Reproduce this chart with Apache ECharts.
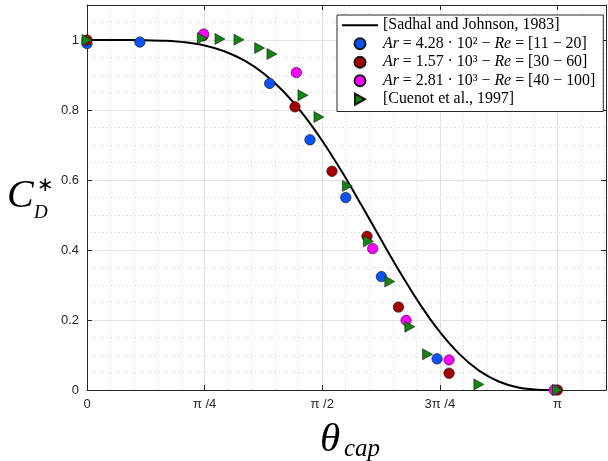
<!DOCTYPE html>
<html><head><meta charset="utf-8">
<script src="https://cdn.jsdelivr.net/npm/echarts@6/dist/echarts.min.js"></script>
<style>html,body{margin:0;padding:0;background:#fff}#c{width:608px;height:461px}</style>
</head><body><div id="c"></div>
<script>
// ---- data ----
const xTickLabels = ['0', 'π /4', 'π /2', '3π /4', 'π'];
const seriesNames = ['Sadhal and Johnson, 1983', 'Ar=4.28e2 Re=[11-20]', 'Ar=1.57e3 Re=[30-60]', 'Ar=2.81e3 Re=[40-100]', 'Cuenot et al., 1997'];
const legendLabels = [
  '[Sadhal and Johnson, 1983]',
  '{i|Ar} = 4.28 · 10² − {i|Re} = [11 − 20]',
  '{i|Ar} = 1.57 · 10³ − {i|Re} = [30 − 60]',
  '{i|Ar} = 2.81 · 10³ − {i|Re} = [40 − 100]',
  '[Cuenot et al., 1997]'
];
const curveTheta = [0, 0.1309, 0.2618, 0.3927, 0.5236, 0.6545, 0.7854, 0.9163, 1.0472, 1.1781, 1.309, 1.4399, 1.5708, 1.7017, 1.8326, 1.9635, 2.0944, 2.2253, 2.3562, 2.4871, 2.618, 2.7489, 2.8798, 3.0107, 3.1416];
const curveCd = [1, 1.0, 0.9999, 0.9994, 0.9977, 0.9933, 0.9842, 0.968, 0.9423, 0.9049, 0.8542, 0.7897, 0.7122, 0.624, 0.5283, 0.4298, 0.3333, 0.2439, 0.1659, 0.1025, 0.0554, 0.0244, 0.0074, 0.001, 0];
const blueTheta = [0, 0.353, 1.220, 1.489, 1.728, 1.966, 2.338];
const blueCd = [0.99, 0.994, 0.876, 0.715, 0.55, 0.324, 0.089];
const redTheta = [0, 0.775, 1.389, 1.636, 1.870, 2.080, 2.418, 3.1416];
const redCd = [1.0, 1.012, 0.809, 0.625, 0.439, 0.237, 0.048, 0];
const magentaTheta = [0.779, 1.398, 1.908, 2.131, 2.418, 3.12];
const magentaCd = [1.017, 0.907, 0.404, 0.199, 0.086, 0];
const greenTheta = [0, 0.770, 0.888, 1.015, 1.153, 1.235, 1.442, 1.549, 1.739, 1.880, 2.022, 2.156, 2.274, 2.617, 3.1416];
const greenCd = [1.0, 1.005, 1.003, 1.001, 0.977, 0.960, 0.842, 0.780, 0.583, 0.425, 0.310, 0.181, 0.102, 0.016, 0];

const pairs = (a, b) => a.map((v, i) => [v, b[i]]);
const xMax = 3.466, yMax = 1.1;
const sans = '"Liberation Sans", Arial, sans-serif';
const tserif = '"Liberation Serif", "DejaVu Serif", serif';
const axisColor = '#262626';
const triPath = 'path://M0,0L10,5.5L0,11Z';

const chart = echarts.init(document.getElementById('c'), null, {renderer: 'canvas'});
const xLabel = v => {
  const i = Math.round(v / (Math.PI / 4));
  return Math.abs(v - i * Math.PI / 4) < 1e-6 ? xTickLabels[i] : '';
};
const minorLine = {show: true, lineStyle: {color: '#d4d4d4', width: 1, type: [1, 3]}};
chart.setOption({
  animation: false,
  backgroundColor: '#fff',
  grid: {left: 87, right: 2, top: 5, bottom: 71, containLabel: false},
  xAxis: [
    {type: 'value', min: 0, max: xMax, interval: Math.PI / 4, position: 'bottom', z: 1,
     axisLine: {show: true, onZero: false, lineStyle: {color: axisColor}},
     axisTick: {show: true, inside: true, length: 5, lineStyle: {color: axisColor}},
     axisLabel: {formatter: xLabel, showMaxLabel: false, margin: 8, fontFamily: sans, fontSize: 13, color: axisColor},
     splitLine: {show: true, lineStyle: {color: '#e2e2e2', width: 1}}},
    {type: 'value', min: 0, max: xMax, interval: Math.PI / 4, position: 'top', z: 1,
     axisLine: {show: true, onZero: false, lineStyle: {color: axisColor}},
     axisTick: {show: true, inside: true, length: 5, lineStyle: {color: axisColor}},
     axisLabel: {show: false}, splitLine: {show: false}},
    {type: 'value', min: 0, max: xMax, interval: Math.PI / 20, z: 0,
     axisLine: {show: false}, axisTick: {show: false}, axisLabel: {show: false}, splitLine: minorLine}
  ],
  yAxis: [
    {type: 'value', min: 0, max: yMax, interval: 0.2, position: 'left', z: 1,
     axisLine: {show: true, onZero: false, lineStyle: {color: axisColor}},
     axisTick: {show: true, inside: true, length: 5, lineStyle: {color: axisColor}},
     axisLabel: {showMaxLabel: false, margin: 8, fontFamily: sans, fontSize: 13, color: axisColor},
     splitLine: {show: true, lineStyle: {color: '#e2e2e2', width: 1}}},
    {type: 'value', min: 0, max: yMax, interval: 0.2, position: 'right', z: 1,
     axisLine: {show: true, onZero: false, lineStyle: {color: axisColor}},
     axisTick: {show: true, inside: true, length: 5, lineStyle: {color: axisColor}},
     axisLabel: {show: false}, splitLine: {show: false}},
    {type: 'value', min: 0, max: yMax, interval: 0.05, z: 0,
     axisLine: {show: false}, axisTick: {show: false}, axisLabel: {show: false}, splitLine: minorLine}
  ],
  legend: {
    orient: 'vertical', left: 337, top: 15, padding: [1, 8, 3, 5],
    itemWidth: 36, itemHeight: 11, itemGap: 0,
    backgroundColor: '#fff', borderColor: axisColor, borderWidth: 1, borderRadius: 0,
    data: seriesNames.map((n, i) => i === 0 ? {name: n, icon: 'path://M0,0L36,0L36,2.2L0,2.2Z'} : {name: n}),
    formatter: name => legendLabels[seriesNames.indexOf(name)],
    textStyle: {fontFamily: tserif, fontSize: 15.9, color: '#000', lineHeight: 18.5,
      rich: {i: {fontFamily: tserif, fontStyle: 'italic', fontSize: 15.9, color: '#000', lineHeight: 18.5}}}
  },
  graphic: [
    {type: 'text', x: 320, y: 440, style: {text: 'θ', font: 'italic 41px ' + tserif, fill: '#000', verticalAlign: 'middle'}},
    {type: 'text', x: 344, y: 449, style: {text: 'cap', font: 'italic 25px ' + tserif, fill: '#000', verticalAlign: 'middle'}},
    {type: 'text', x: 7, y: 196, style: {text: 'C', font: 'italic 40px ' + tserif, fill: '#000', verticalAlign: 'middle'}},
    {type: 'text', x: 37, y: 186, style: {text: '∗', font: '20px "DejaVu Sans", serif', fill: '#000', verticalAlign: 'middle'}},
    {type: 'text', x: 34, y: 213, style: {text: 'D', font: 'italic 19px ' + tserif, fill: '#000', verticalAlign: 'middle'}}
  ],
  series: [
    {name: seriesNames[0], type: 'line', data: pairs(curveTheta, curveCd), smooth: 0.3, symbol: 'none',
     lineStyle: {color: '#000', width: 2}, itemStyle: {color: '#000'}, z: 2},
    {name: seriesNames[1], type: 'scatter', data: pairs(blueTheta, blueCd), symbol: 'circle', symbolSize: 10.5,
     itemStyle: {color: '#0a52f5', borderColor: '#1a1a1a', borderWidth: 0.6, opacity: 1}, z: 3},
    {name: seriesNames[2], type: 'scatter', data: pairs(redTheta, redCd), symbol: 'circle', symbolSize: 10.5,
     itemStyle: {color: '#a50000', borderColor: '#1a1a1a', borderWidth: 0.6, opacity: 1}, z: 3},
    {name: seriesNames[3], type: 'scatter', data: pairs(magentaTheta, magentaCd), symbol: 'circle', symbolSize: 10.5,
     itemStyle: {color: '#ff00ff', borderColor: '#1a1a1a', borderWidth: 0.6, opacity: 1}, z: 3},
    {name: seriesNames[4], type: 'scatter', data: pairs(greenTheta, greenCd), symbol: triPath, symbolSize: [10, 11],
     itemStyle: {color: '#128412', borderColor: '#1a1a1a', borderWidth: 0.6, opacity: 1}, z: 3}
  ]
});
</script></body></html>
